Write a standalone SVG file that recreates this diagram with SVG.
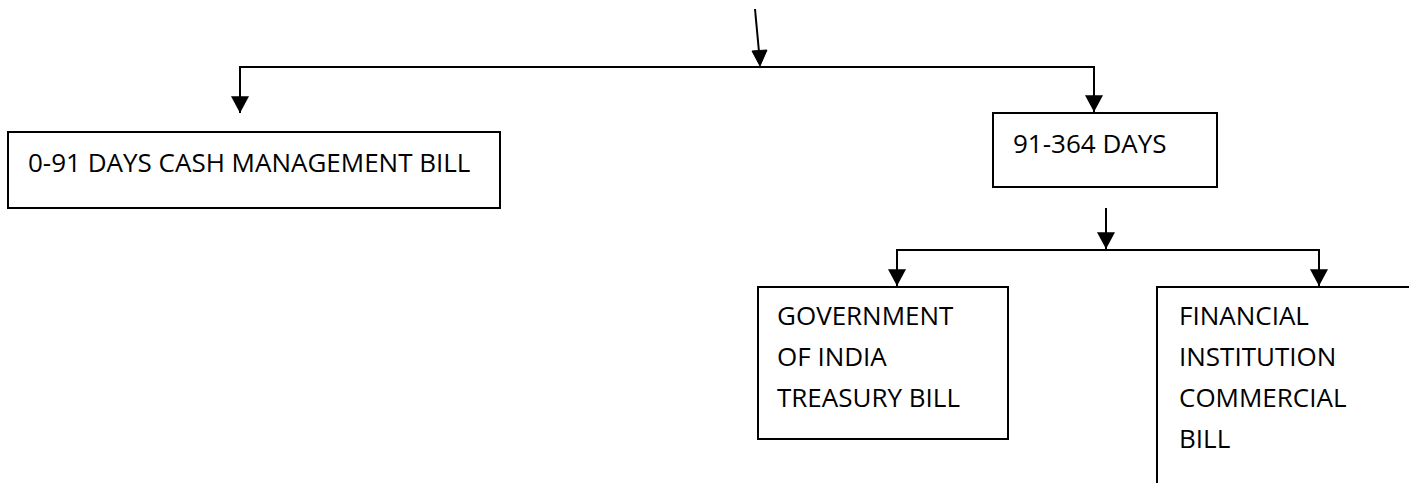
<svg xmlns="http://www.w3.org/2000/svg" width="1409" height="483" viewBox="0 0 1409 483">
  <style>
    .box { fill: #ffffff; stroke: #000000; stroke-width: 2; }
    .lbl { font-family: "Open Sans", "Liberation Sans", sans-serif; font-size: 26px; fill: #000000; }
    .ln { fill: none; stroke: #000000; stroke-width: 2; }
    .head { fill: #000000; stroke: #000000; stroke-width: 1; }
  </style>
  <defs>
    <marker id="arr" markerUnits="userSpaceOnUse" markerWidth="18" markerHeight="18" viewBox="0 0 16 16" refX="15" refY="8" orient="auto">
      <path d="M0,0 L15,8 L0,16 Z" fill="#000000"/>
    </marker>
  </defs>
  <rect width="1409" height="483" fill="#ffffff"/>
  <g id="connectors">
    <line class="ln" x1="755" y1="9" x2="759" y2="52"/>
    <path class="head" d="M752,51 L767,50 L760,66 Z"/>
    <line class="ln" x1="239" y1="67" x2="1095" y2="67"/>
    <line class="ln" x1="240" y1="66" x2="240" y2="113" marker-end="url(#arr)"/>
    <line class="ln" x1="1094" y1="66" x2="1094" y2="112" marker-end="url(#arr)"/>
    <line class="ln" x1="1106" y1="208" x2="1106" y2="249" marker-end="url(#arr)"/>
    <line class="ln" x1="896" y1="250" x2="1320" y2="250"/>
    <line class="ln" x1="897" y1="249" x2="897" y2="286" marker-end="url(#arr)"/>
    <line class="ln" x1="1319" y1="249" x2="1319" y2="286" marker-end="url(#arr)"/>
  </g>
  <g id="node-cash">
    <rect class="box" x="8" y="132" width="492" height="76"/>
    <text class="lbl" x="28" y="172">0-91 DAYS CASH MANAGEMENT BILL</text>
  </g>
  <g id="node-91-364">
    <rect class="box" x="993" y="113" width="224" height="74"/>
    <text class="lbl" x="1013" y="153">91-364 DAYS</text>
  </g>
  <g id="node-gov">
    <rect class="box" x="758" y="287" width="250" height="152"/>
    <text class="lbl" x="777" y="325">GOVERNMENT</text>
    <text class="lbl" x="777" y="366">OF INDIA</text>
    <text class="lbl" x="777" y="407">TREASURY BILL</text>
  </g>
  <g id="node-fin">
    <rect class="box" x="1157" y="287" width="300" height="250"/>
    <text class="lbl" x="1179" y="325">FINANCIAL</text>
    <text class="lbl" x="1179" y="366">INSTITUTION</text>
    <text class="lbl" x="1179" y="407">COMMERCIAL</text>
    <text class="lbl" x="1179" y="448">BILL</text>
  </g>
</svg>
